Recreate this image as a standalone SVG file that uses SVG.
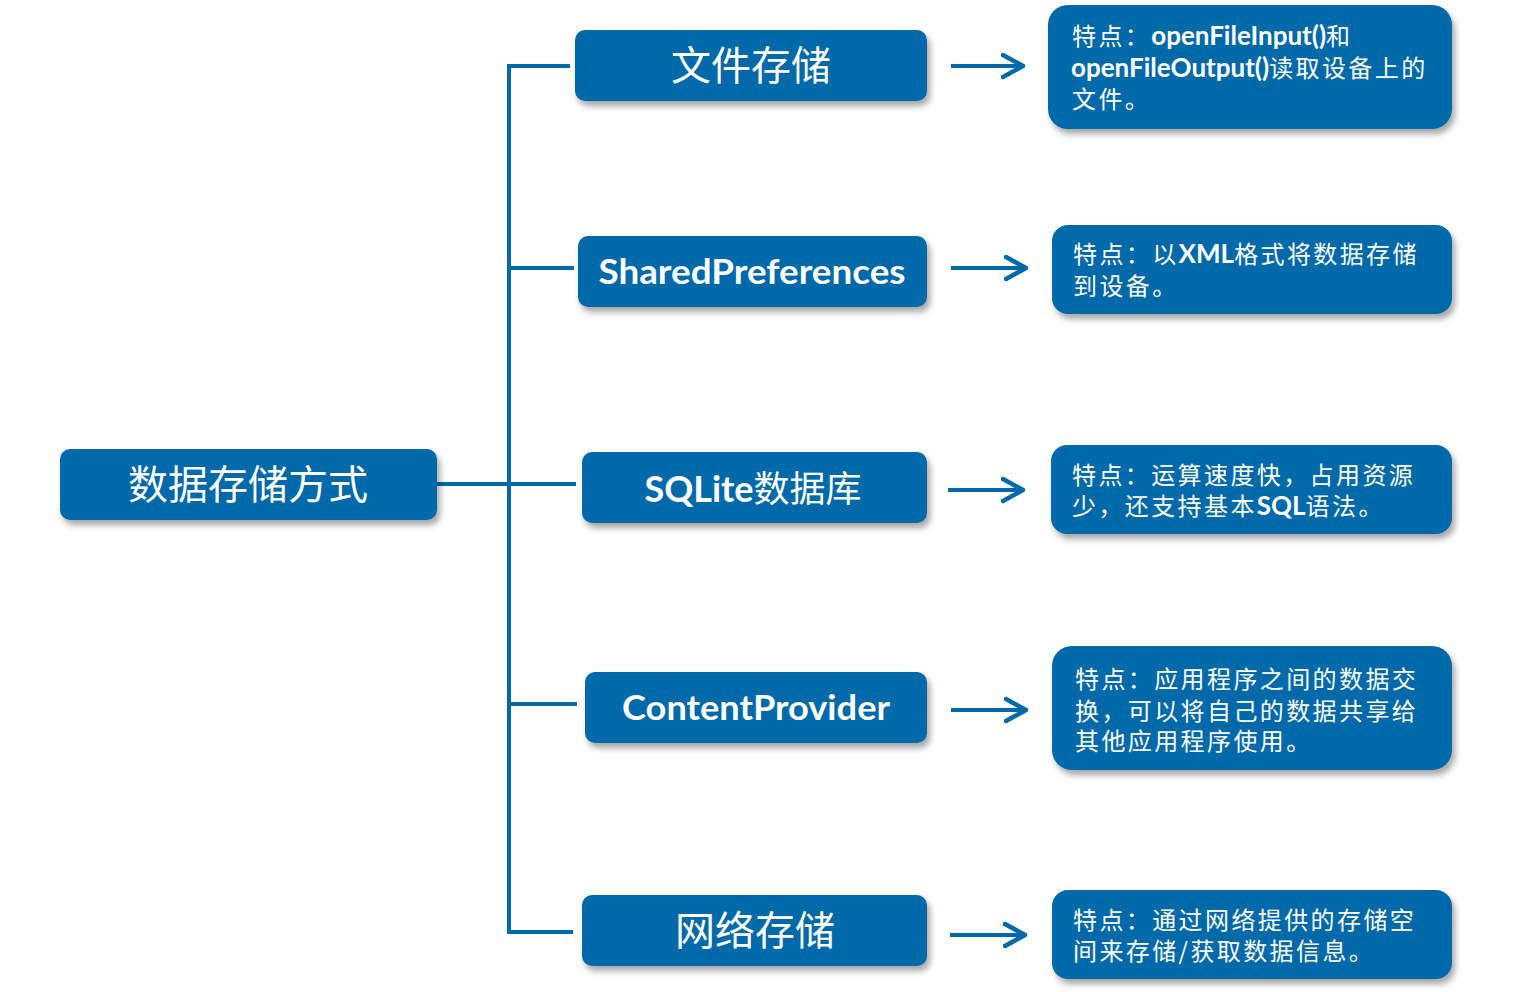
<svg xmlns="http://www.w3.org/2000/svg" width="1534" height="992" viewBox="0 0 1534 992">
<defs>
<filter id="sh" x="-10%" y="-20%" width="120%" height="150%">
<feDropShadow dx="3" dy="5" stdDeviation="3" flood-color="#000" flood-opacity="0.35"/>
</filter>
<marker id="ah" markerWidth="26" markerHeight="28" refX="22" refY="14" orient="auto" markerUnits="userSpaceOnUse" viewBox="0 0 26 28">
<path d="M2,3 L22,14 L2,25" fill="none" stroke="#0069aa" stroke-width="4.5" stroke-linecap="round" stroke-linejoin="round"/>
</marker>
<style>
.box{fill:#0069aa;filter:url(#sh)}
.cjk{font-family:"Noto Sans CJK SC",sans-serif;fill:#fff}
.lat{font-family:Lato,"Liberation Sans","Noto Sans CJK SC",sans-serif;font-weight:bold;fill:#fff}
.desc{font-family:"Noto Sans CJK SC",sans-serif;font-size:24px;letter-spacing:2.4px;fill:#fff}
.b{font-family:Lato,"Liberation Sans",sans-serif;font-weight:bold;font-size:26px;letter-spacing:0px}
.ln{stroke:#0069aa;stroke-width:4;fill:none}
.ar{stroke:#0069aa;stroke-width:4;fill:none;marker-end:url(#ah)}
</style>
</defs>
<g id="connectors">
<path class="ln" d="M570,66 H509 V932 H573"/>
<path class="ln" d="M509,268 H574"/>
<path class="ln" d="M437,484 H576"/>
<path class="ln" d="M509,704 H577"/>
<path class="ar" d="M951,66 H1023"/>
<path class="ar" d="M951,268 H1026"/>
<path class="ar" d="M948,490 H1023"/>
<path class="ar" d="M951,710 H1026"/>
<path class="ar" d="M950,935 H1025"/>
</g>
<g id="root">
<rect class="box" x="60" y="449" width="377" height="71" rx="10"/>
<text class="cjk" x="248" y="499" font-size="40" text-anchor="middle">数据存储方式</text>
</g>
<g id="n1">
<rect class="box" x="575" y="30" width="352" height="71" rx="10"/>
<text class="cjk" x="751" y="80" font-size="40" text-anchor="middle">文件存储</text>
</g>
<g id="n2">
<rect class="box" x="578" y="236" width="349" height="71" rx="10"/>
<text class="lat" x="752" y="284" font-size="34" text-anchor="middle" textLength="307" lengthAdjust="spacingAndGlyphs">SharedPreferences</text>
</g>
<g id="n3">
<rect class="box" x="582" y="452" width="345" height="71" rx="10"/>
<text x="753" y="502" font-size="36" text-anchor="middle" class="cjk"><tspan font-family="Lato, 'Liberation Sans', sans-serif" font-weight="bold">SQLite</tspan>数据库</text>
</g>
<g id="n4">
<rect class="box" x="585" y="672" width="342" height="71" rx="10"/>
<text class="lat" x="756" y="720" font-size="34" text-anchor="middle" textLength="268" lengthAdjust="spacingAndGlyphs">ContentProvider</text>
</g>
<g id="n5">
<rect class="box" x="582" y="895" width="345" height="71" rx="10"/>
<text class="cjk" x="755" y="945" font-size="40" text-anchor="middle">网络存储</text>
</g>
<g id="d1">
<rect class="box" x="1048" y="5" width="404" height="124" rx="20"/>
<text class="desc"><tspan x="1072" y="45">特点：<tspan class="b">openFileInput()</tspan>和</tspan><tspan x="1071" y="77"><tspan class="b">openFileOutput()</tspan>读取设备上的</tspan><tspan x="1072" y="108">文件。</tspan></text>
</g>
<g id="d2">
<rect class="box" x="1052" y="225" width="400" height="89" rx="16"/>
<text class="desc"><tspan x="1073" y="263">特点：以<tspan class="b">XML</tspan>格式将数据存储</tspan><tspan x="1073" y="295">到设备。</tspan></text>
</g>
<g id="d3">
<rect class="box" x="1051" y="445" width="401" height="89" rx="16"/>
<text class="desc"><tspan x="1072" y="484">特点：运算速度快，占用资源</tspan><tspan x="1072" y="515">少，还支持基本<tspan class="b">SQL</tspan>语法。</tspan></text>
</g>
<g id="d4">
<rect class="box" x="1052" y="646" width="400" height="124" rx="20"/>
<text class="desc"><tspan x="1075" y="688">特点：应用程序之间的数据交</tspan><tspan x="1075" y="720">换，可以将自己的数据共享给</tspan><tspan x="1075" y="750">其他应用程序使用。</tspan></text>
</g>
<g id="d5">
<rect class="box" x="1052" y="890" width="400" height="89" rx="16"/>
<text class="desc"><tspan x="1073" y="929">特点：通过网络提供的存储空</tspan><tspan x="1073" y="960">间来存储/获取数据信息。</tspan></text>
</g>
</svg>
